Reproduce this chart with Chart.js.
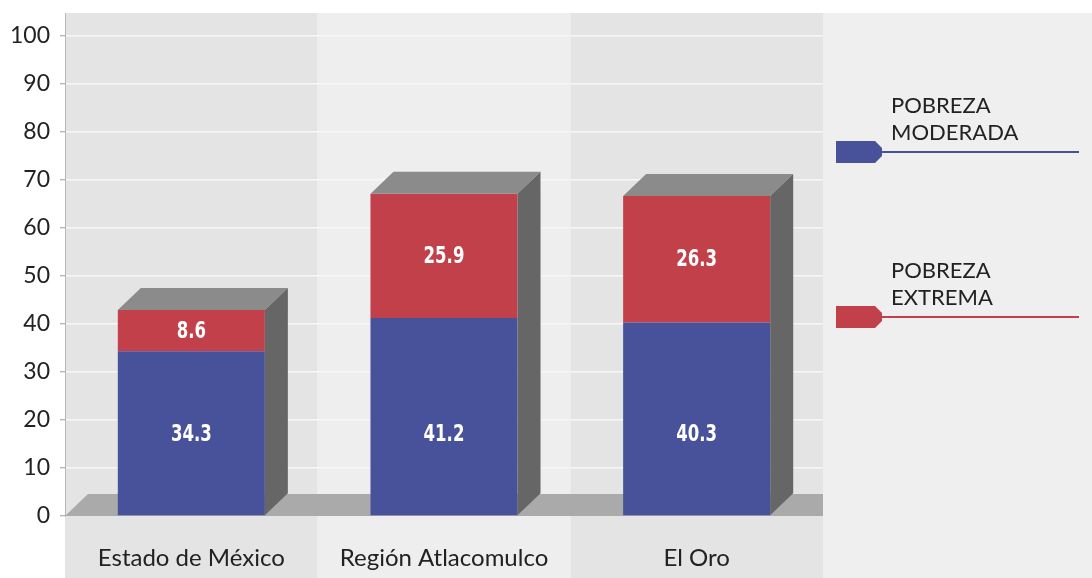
<!DOCTYPE html>
<html><head><meta charset="utf-8">
<script src="https://cdn.jsdelivr.net/npm/chart.js@4/dist/chart.umd.min.js"></script>
<style>html,body{margin:0;padding:0;background:#fff;}#wrap{width:1092px;height:578px;}</style>
</head><body><div id="wrap"><canvas id="c" width="1092" height="578"></canvas></div>
<script>
const categories = ['Estado de México', 'Región Atlacomulco', 'El Oro'];
const moderada = [34.3, 41.2, 40.3];
const extrema = [8.6, 25.9, 26.3];
const seriesLabels = ['POBREZA MODERADA', 'POBREZA EXTREMA'];
const yTicks = [0, 10, 20, 30, 40, 50, 60, 70, 80, 90, 100];

const BLUE = '#48529b', RED = '#c1404a';
const DX = 23, DY = 22;

const bgPlugin = {
  id: 'bg',
  beforeDraw(chart) {
    const {ctx, chartArea: ca, scales: {x}} = chart;
    ctx.save();
    ctx.fillStyle = '#ffffff';
    ctx.fillRect(0, 0, chart.width, chart.height);
    const n = categories.length;
    const cw = (ca.right - ca.left) / n;
    categories.forEach((c, i) => {
      const cx = x.getPixelForValue(i);
      ctx.fillStyle = i % 2 === 0 ? '#e4e4e4' : '#eeeeee';
      ctx.fillRect(cx - cw / 2, ca.top, cw, chart.height - ca.top);
    });
    ctx.fillStyle = '#efefef';
    ctx.fillRect(ca.right, ca.top, chart.width - ca.right, chart.height - ca.top);
    ctx.restore();
  },
  beforeDatasetsDraw(chart) {
    const {ctx, chartArea: ca, scales: {y}} = chart;
    const y0 = y.getPixelForValue(0);
    ctx.save();
    ctx.fillStyle = '#aaaaaa';
    ctx.beginPath();
    ctx.moveTo(ca.left, y0);
    ctx.lineTo(ca.left + DX, y0 - DY);
    ctx.lineTo(ca.right, y0 - DY);
    ctx.lineTo(ca.right, y0);
    ctx.closePath();
    ctx.fill();
    ctx.restore();
  },
  afterDatasetsDraw(chart) {
    const {ctx, scales: {y}} = chart;
    const m0 = chart.getDatasetMeta(0), m1 = chart.getDatasetMeta(1);
    ctx.save();
    categories.forEach((c, i) => {
      const b = m0.data[i], t = m1.data[i];
      const L = b.x - b.width / 2, R = b.x + b.width / 2;
      const top = t.y, bot = b.base;
      ctx.fillStyle = '#8b8b8b';
      ctx.beginPath();
      ctx.moveTo(L, top); ctx.lineTo(L + DX, top - DY); ctx.lineTo(R + DX, top - DY); ctx.lineTo(R, top);
      ctx.closePath(); ctx.fill();
      ctx.fillStyle = '#666666';
      ctx.beginPath();
      ctx.moveTo(R, top); ctx.lineTo(R + DX, top - DY); ctx.lineTo(R + DX, bot - DY); ctx.lineTo(R, bot);
      ctx.closePath(); ctx.fill();
    });
    ctx.fillStyle = '#ffffff';
    ctx.font = 'bold 23px "DejaVu Sans Condensed", "DejaVu Sans", sans-serif';
    ctx.textAlign = 'center';
    ctx.textBaseline = 'middle';
    const blueY = y.getPixelForValue(Math.min(...moderada) / 2);
    [m0, m1].forEach((m, di) => {
      const vals = di === 0 ? moderada : extrema;
      m.data.forEach((el, i) => {
        const ty = di === 0 ? blueY : (el.y + el.base) / 2;
        ctx.save();
        ctx.translate(el.x, ty + 1);
        ctx.scale(0.8, 1);
        ctx.fillText(vals[i].toFixed(1), 0, 0);
        ctx.restore();
      });
    });
    ctx.restore();
  },
  afterDraw(chart) {
    const {ctx} = chart;
    const markerY = [152, 317];
    const cols = [BLUE, RED];
    ctx.save();
    seriesLabels.forEach((lab, i) => {
      const cy = markerY[i];
      ctx.fillStyle = cols[i];
      ctx.beginPath();
      ctx.moveTo(836, cy - 11); ctx.lineTo(875, cy - 11); ctx.lineTo(882, cy - 4);
      ctx.lineTo(882, cy + 4); ctx.lineTo(875, cy + 11); ctx.lineTo(836, cy + 11);
      ctx.closePath(); ctx.fill();
      ctx.strokeStyle = cols[i];
      ctx.lineWidth = 2;
      ctx.beginPath(); ctx.moveTo(880, cy); ctx.lineTo(1079, cy); ctx.stroke();
      ctx.fillStyle = '#222222';
      ctx.font = '22px Lato, "Open Sans", sans-serif';
      ctx.textAlign = 'left';
      ctx.textBaseline = 'middle';
      const lines = lab.split(' ');
      lines.forEach((ln, k) => {
        ctx.fillText(ln, 891, cy - 19 - (lines.length - 1 - k) * 27);
      });
    });
    ctx.restore();
  }
};

new Chart(document.getElementById('c'), {
  type: 'bar',
  data: {
    labels: categories,
    datasets: [
      {label: seriesLabels[0], data: moderada, backgroundColor: BLUE, borderWidth: 0, stack: 's'},
      {label: seriesLabels[1], data: extrema, backgroundColor: RED, borderWidth: 0, stack: 's'}
    ]
  },
  options: {
    responsive: false,
    animation: false,
    devicePixelRatio: 1,
    layout: {padding: {top: 13, right: 269, bottom: 0, left: 0}},
    plugins: {legend: {display: false}, tooltip: {enabled: false}},
    datasets: {bar: {categoryPercentage: 1, barPercentage: 0.582}},
    scales: {
      x: {
        stacked: true,
        grid: {display: false},
        border: {display: false},
        ticks: {padding: 20, color: '#222', font: {family: 'Lato, "Open Sans", sans-serif', size: 24}},
        afterFit(s) { s.height = 62; }
      },
      y: {
        stacked: true,
        min: 0, max: 104.7,
        afterBuildTicks(s) { s.ticks = yTicks.map(v => ({value: v})); },
        grid: {
          color: c => (c.tick && c.tick.value === 0) ? 'rgba(0,0,0,0)' : '#f7f7f7',
          lineWidth: 1.5, tickLength: 5, tickColor: '#9a9a9a', tickWidth: 1
        },
        border: {display: true, color: '#b8b8b8', width: 1},
        ticks: {padding: 10, color: '#222', font: {family: 'Lato, "Open Sans", sans-serif', size: 23}},
        afterFit(s) { s.width = 65; s.paddingTop = 0; s.paddingBottom = 0; }
      }
    }
  },
  plugins: [bgPlugin]
});
</script></body></html>
